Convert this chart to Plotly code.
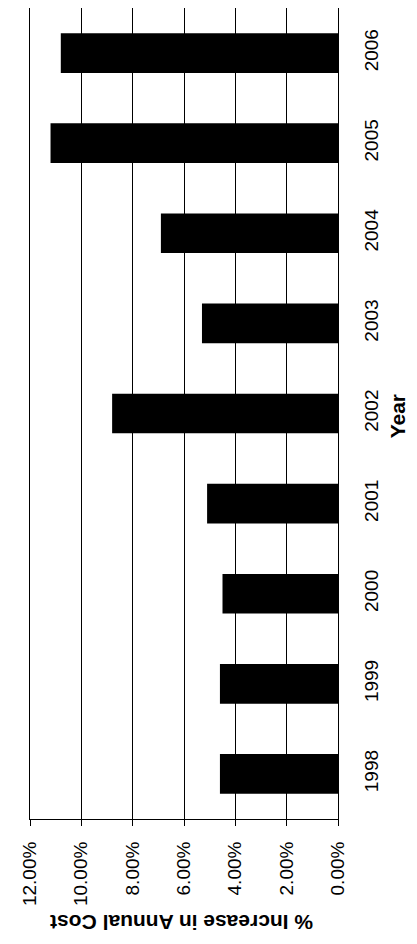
import plotly.graph_objects as go

years = ["1998", "1999", "2000", "2001", "2002", "2003", "2004", "2005", "2006"]
increase = [0.046, 0.046, 0.045, 0.051, 0.088, 0.053, 0.069, 0.112, 0.108]
tick_vals = [0.0, 0.02, 0.04, 0.06, 0.08, 0.10, 0.12]
tick_text = ["0.00%", "2.00%", "4.00%", "6.00%", "8.00%", "10.00%", "12.00%"]
x_title = "% Increase in Annual Cost"
y_title = "Year"

FONT = "Liberation Sans, Arial, sans-serif"

fig = go.Figure(go.Bar(
    x=increase, y=years, orientation="h",
    marker=dict(color="black", line=dict(width=0)),
    width=0.44,
))

fig.update_layout(
    width=417, height=944,
    margin=dict(l=22, r=87, t=0, b=133, autoexpand=False),
    paper_bgcolor="white", plot_bgcolor="white",
    showlegend=False,
    font=dict(family=FONT, color="black", size=19),
    xaxis=dict(
        range=[0.12, 0], autorange=False, automargin=False,
        tickvals=tick_vals, ticktext=tick_text,
        tickangle=-90, tickfont=dict(size=19),
        showgrid=True, gridcolor="black", gridwidth=1,
        showline=True, linecolor="black", linewidth=1,
        ticks="outside", ticklen=6, tickcolor="black",
        zeroline=False,
        ticklabelstandoff=8,
    ),
    yaxis=dict(
        type="category", range=[-0.5, 8.5], autorange=False, automargin=False,
        side="right", tickangle=-90, tickfont=dict(size=19),
        showline=True, linecolor="black", linewidth=1, mirror=True,
        showgrid=False, ticks="",
        ticklabelstandoff=16,
    ),
    annotations=[
        dict(text="<b>" + x_title + "</b>", xref="paper", yref="paper",
             x=0.492, y=-0.144, textangle=180, showarrow=False,
             font=dict(size=21, family=FONT, color="black")),
        dict(text="<b>" + y_title + "</b>", xref="paper", yref="paper",
             x=1.24, y=0.497, textangle=-90, showarrow=False,
             font=dict(size=21, family=FONT, color="black")),
    ],
)

fig.write_html("out.html")
